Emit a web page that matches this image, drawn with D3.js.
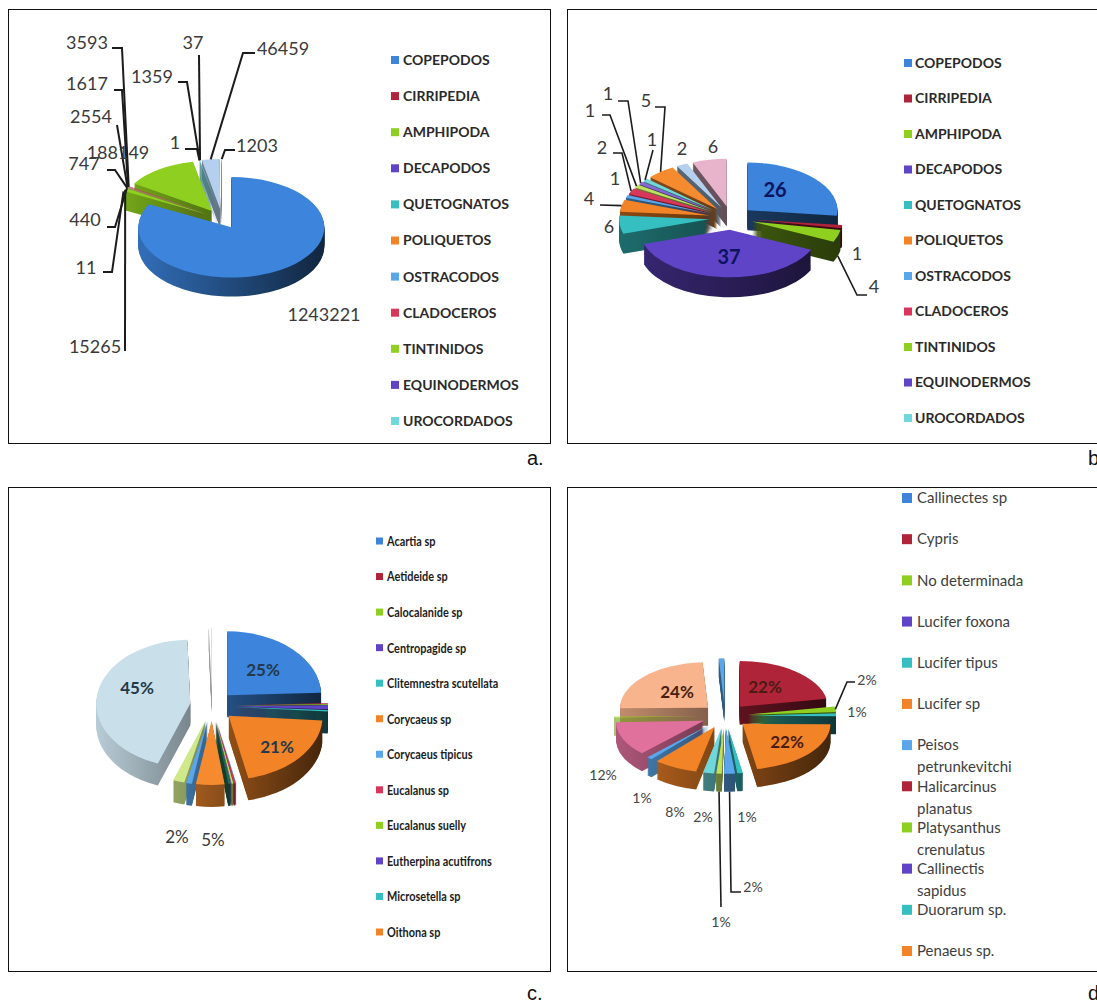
<!DOCTYPE html>
<html>
<head>
<meta charset="utf-8">
<script src="https://cdn.jsdelivr.net/npm/d3@7"></script>
<style>
  html, body { margin: 0; padding: 0; background: #fff; overflow: hidden; }
</style>
</head>
<body>
<svg id="chart" width="1097" height="1004"></svg>
<script>
// shared slice colours
var blue = "#3c84dc", red = "#b0243a", green = "#8fcf1f", purple = "#6044c8", teal = "#35bfc0",
    orange = "#f28326", ltblue = "#5aa6ea", crimson = "#d8365a", lime = "#c0e060", violet = "#8568d0",
    aqua = "#70d8dc", orange2 = "#f58a2e", pale = "#b4d0ee", pink = "#e8b4cc", rose = "#e0709c",
    peach = "#f8b48c", ice = "#c9dfea", white = "#ffffff";

// panel a
var valuesA = [1243221, 11, 15265, 440, 747, 2554, 1617, 3593, 188149, 1, 1359, 37, 46459, 1203];
var labelsA = ["1243221", "11", "15265", "440", "747", "2554", "1617", "3593", "188149", "1", "1359", "37", "46459", "1203"];
var colorsA = [blue, red, green, purple, teal, orange, ltblue, crimson, green, violet, aqua, orange2, pale, pink];
var legendA = ["COPEPODOS", "CIRRIPEDIA", "AMPHIPODA", "DECAPODOS", "QUETOGNATOS", "POLIQUETOS", "OSTRACODOS", "CLADOCEROS", "TINTINIDOS", "EQUINODERMOS", "UROCORDADOS"];

// panel b
var valuesB = [26, 1, 4, 37, 6, 4, 1, 2, 1, 1, 1, 5, 2, 6];
var labelsB = ["26", "1", "4", "37", "6", "4", "1", "2", "1", "1", "1", "5", "2", "6"];
var colorsB = [blue, red, green, purple, teal, orange, ltblue, crimson, lime, violet, aqua, orange2, pale, pink];
var legendB = legendA;

// panel c
var valuesC = [25, 0.2, 0.2, 1, 0.4, 21, 0.1, 0.3, 0.3, 0.1, 0.4, 5, 1, 2, 45, 0.5];
var labelsC = ["25%", "", "", "", "", "21%", "", "", "", "", "", "5%", "", "2%", "45%", ""];
var colorsC = [blue, red, green, purple, teal, orange, ltblue, crimson, lime, violet, "#1f6b50", orange2, ltblue, "#cfe88a", ice, white];
var legendC = ["Acartia sp", "Aetideide sp", "Calocalanide sp", "Centropagide sp", "Clitemnestra scutellata", "Corycaeus sp", "Corycaeus tipicus", "Eucalanus sp", "Eucalanus suelly", "Eutherpina acutifrons", "Microsetella sp", "Oithona sp"];

// panel d
var valuesD = [22, 2, 1, 22, 1, 2, 1, 2, 8, 1, 12, 0.3, 24, 1];
var labelsD = ["22%", "2%", "1%", "22%", "1%", "2%", "1%", "2%", "8%", "1%", "12%", "", "24%", ""];
var colorsD = [red, green, teal, orange, teal, ltblue, lime, aqua, orange, ltblue, rose, green, peach, ltblue];
var legendD = ["Callinectes sp", "Cypris", "No determinada", "Lucifer foxona", "Lucifer tipus", "Lucifer sp", "Peisos petrunkevitchi", "Halicarcinus planatus", "Platysanthus crenulatus", "Callinectis sapidus", "Duorarum sp.", "Penaeus sp."];
var legendColors = [blue, red, green, purple, teal, orange, ltblue, red, green, purple, teal, orange];

// where the text labels sit, by slice index. null text position = centred on the slice
var labelPosA = [[324,315],[86,268],[95,347],[85,220],[84,164],[91,117],[87,84],[87,43],[118,153],[175,143],[152,77],[193,43],[283,49],[257,146]];
var labelPosB = [[775,190],[857,254],[874,287],[729,257],[609,227],[589,199],[615,179],[602,148],[590,111],[608,94],[652,140],[646,101],[682,149],[713,147]];
var labelPosC = [[263,670],null,null,null,null,[277,747],null,null,null,null,null,[213,840],null,[177,837],[137,688],null];
var labelPosD = [[765,687],[867,680],[857,712],[787,742],[747,817],[753,887],[721,922],[703,817],[675,812],[642,798],[603,775],null,[677,692],null];

// leader line elbows, by slice index
var leadersA = {1:[[103,272],[112,272]], 2:[[125,351]], 3:[[107,227],[115,227]], 4:[[107,170],[115,170]], 5:[[117,125]], 6:[[114,90],[122,90]], 7:[[112,48],[122,48]], 9:[[185,149],[197,149]], 10:[[178,82],[187,82]], 11:[[199,55]], 12:[[255,53],[243,53]], 13:[[235,150],[225,150]]};
var leadersB = {2:[[867,295],[857,295]], 5:[[600,205]], 7:[[613,153],[622,153]], 8:[[602,115],[610,115]], 9:[[618,101],[628,101]], 10:[[653,150]], 11:[[655,107],[665,107]]};
var leadersC = {};
var leadersD = {1:[[855,682],[847,682]], 5:[[741,892],[731,892]], 6:[[721,907]]};

var svg = d3.select("#chart");

// panel frames
var frames = [[8.5,9.5,542,434],[567.5,9.5,560,434],[8.5,487.5,542,484],[567.5,487.5,560,484]];
svg.selectAll("rect.frame").data(frames).enter().append("rect")
  .attr("class", "frame")
  .attr("x", function(d){ return d[0]; }).attr("y", function(d){ return d[1]; })
  .attr("width", function(d){ return d[2]; }).attr("height", function(d){ return d[3]; })
  .attr("fill", "none").attr("stroke", "#111").attr("stroke-width", 1);

// panel letters
var letters = [["a.",527,465],["b.",1088,465],["c.",527,1000],["d.",1088,1000]];
svg.selectAll("text.letter").data(letters).enter().append("text")
  .attr("class", "letter")
  .attr("x", function(d){ return d[1]; }).attr("y", function(d){ return d[2]; })
  .attr("font-family", "Liberation Sans").attr("font-size", 20).attr("fill", "#111")
  .text(function(d){ return d[0]; });

var defs = svg.append("defs");
var gradId = 0;

// exploded pie with a fake 3d wall made of stacked dark copies
function pie3d(o) {
  var g = svg.append("g").attr("transform", "translate(" + o.cx + "," + o.cy + ")");
  var slices = d3.pie().sort(null).value(function(d){ return d; })(o.values);
  var arc = d3.arc().innerRadius(0).outerRadius(o.r);

  slices.forEach(function(s, i) {
    s.index = i;
    s.mid = (s.startAngle + s.endAngle) / 2;
    s.ox = Math.sin(s.mid) * o.explode;
    s.oy = -Math.cos(s.mid) * o.explode * o.tilt;
    s.color = o.colors[i];
  });

  var drawOrder = slices.slice().sort(function(a, b){ return Math.cos(b.mid) - Math.cos(a.mid); });

  drawOrder.forEach(function(s) {
    var sg = g.append("g");
    var id = "wall" + (gradId++);
    var c = d3.color(s.color);
    var grad = defs.append("linearGradient").attr("id", id)
      .attr("gradientUnits", "userSpaceOnUse")
      .attr("x1", -o.r).attr("x2", o.r).attr("y1", 0).attr("y2", 0);
    grad.append("stop").attr("offset", "0%").attr("stop-color", c.darker(o.wallLeft));
    grad.append("stop").attr("offset", "100%").attr("stop-color", c.darker(o.wallRight));

    d3.range(o.depth, 0, -1).forEach(function(k) {
      sg.append("path")
        .attr("d", arc(s))
        .attr("transform", "translate(" + s.ox + "," + (s.oy + k) + ") scale(1," + o.tilt + ")")
        .attr("fill", "url(#" + id + ")");
    });
    sg.append("path")
      .attr("d", arc(s))
      .attr("transform", "translate(" + s.ox + "," + s.oy + ") scale(1," + o.tilt + ")")
      .attr("fill", s.color);
  });

  // leader lines start on the slice rim, they are drawn on the page coordinates
  var top = svg.append("g");
  var line = d3.line();
  slices.forEach(function(s) {
    var elbow = o.leaders[s.index];
    if (!elbow) return;
    var px = o.cx + s.ox + Math.sin(s.mid) * o.r;
    var py = o.cy + s.oy + (-Math.cos(s.mid)) * o.r * o.tilt + (Math.cos(s.mid) < 0 ? o.depth : 0);
    var pts = elbow.slice();
    pts.push([px, py]);
    top.append("path").attr("d", line(pts))
      .attr("fill", "none").attr("stroke", "#1c1c1c").attr("stroke-width", o.leaderWidth);
  });

  slices.forEach(function(s) {
    var at = o.labelPos[s.index];
    if (!at || !o.labels[s.index]) return;
    var inside = o.inside.indexOf(s.index) >= 0;
    top.append("text")
      .attr("x", at[0]).attr("y", at[1]).attr("dy", "0.35em")
      .attr("text-anchor", "middle")
      .attr("font-family", "Lato")
      .attr("font-size", inside ? o.insideSize : o.labelSize)
      .attr("font-weight", inside ? 700 : 400)
      .attr("fill", inside ? o.insideColor : o.labelColor)
      .text(o.labels[s.index]);
  });
}

// legend, long names wrap on two lines when wrap is set
function legend(o) {
  var y = d3.scalePoint().domain(d3.range(o.items.length)).range([o.y0, o.y1]);
  var g = svg.append("g");
  o.items.forEach(function(name, i) {
    g.append("rect")
      .attr("x", o.x).attr("y", y(i) - o.box / 2)
      .attr("width", o.box).attr("height", o.box)
      .attr("fill", o.colors[i]);
    var lines = (o.wrap && name.length > 15) ? name.split(" ") : [name];
    lines.forEach(function(t, j) {
      g.append("text")
        .attr("transform", "translate(" + o.tx + "," + (y(i) + j * 22) + ") scale(" + o.sx + ",1)")
        .attr("dy", "0.35em")
        .attr("font-family", "Lato").attr("font-weight", o.weight).attr("font-size", o.size)
        .attr("fill", o.fill)
        .text(t);
    });
  });
}

pie3d({cx:222, cy:219, r:93, tilt:0.54, depth:19, explode:18, values:valuesA, colors:colorsA, labels:labelsA,
  labelPos:labelPosA, leaders:leadersA, inside:[], labelSize:18, insideSize:18, labelColor:"#3a3a3a", insideColor:"#102060",
  leaderWidth:2, wallLeft:0.5, wallRight:3.5});
pie3d({cx:731, cy:218, r:90, tilt:0.53, depth:20, explode:22, values:valuesB, colors:colorsB, labels:labelsB,
  labelPos:labelPosB, leaders:leadersB, inside:[0,3], labelSize:18, insideSize:20, labelColor:"#3a3a3a", insideColor:"#0c1460",
  leaderWidth:1.6, wallLeft:1.6, wallRight:3.5});
pie3d({cx:212, cy:706, r:94, tilt:0.68, depth:22, explode:22, values:valuesC, colors:colorsC, labels:labelsC,
  labelPos:labelPosC, leaders:leadersC, inside:[0,5,14], labelSize:17, insideSize:17, labelColor:"#3a3a3a", insideColor:"#233a4a",
  leaderWidth:1.6, wallLeft:0.25, wallRight:3.5});
pie3d({cx:725, cy:716, r:88, tilt:0.52, depth:18, explode:23, values:valuesD, colors:colorsD, labels:labelsD,
  labelPos:labelPosD, leaders:leadersD, inside:[0,3,12], labelSize:14, insideSize:17, labelColor:"#444", insideColor:"#4a1c10",
  leaderWidth:1.6, wallLeft:0.7, wallRight:3.5});

legend({items:legendA, colors:[blue, red, green, purple, teal, orange, ltblue, crimson, green, purple, aqua], x:391, tx:403, y0:60, y1:421, box:8, size:14, sx:1, weight:700, fill:"#2a2a2a"});
legend({items:legendB, colors:[blue, red, green, purple, teal, orange, ltblue, crimson, green, purple, aqua], x:904, tx:915, y0:63, y1:418, box:8, size:14, sx:1, weight:700, fill:"#2a2a2a"});
legend({items:legendC, colors:[blue, red, green, purple, teal, orange, ltblue, crimson, green, purple, teal, orange], x:376, tx:387, y0:541, y1:932, box:7, size:14, sx:0.78, weight:700, fill:"#1c1c1c"});
legend({items:legendD, colors:legendColors, x:902, tx:917, y0:498, y1:951, box:10, size:15, sx:1, weight:400, fill:"#3e3e3e", wrap:true});
</script>
</body>
</html>
